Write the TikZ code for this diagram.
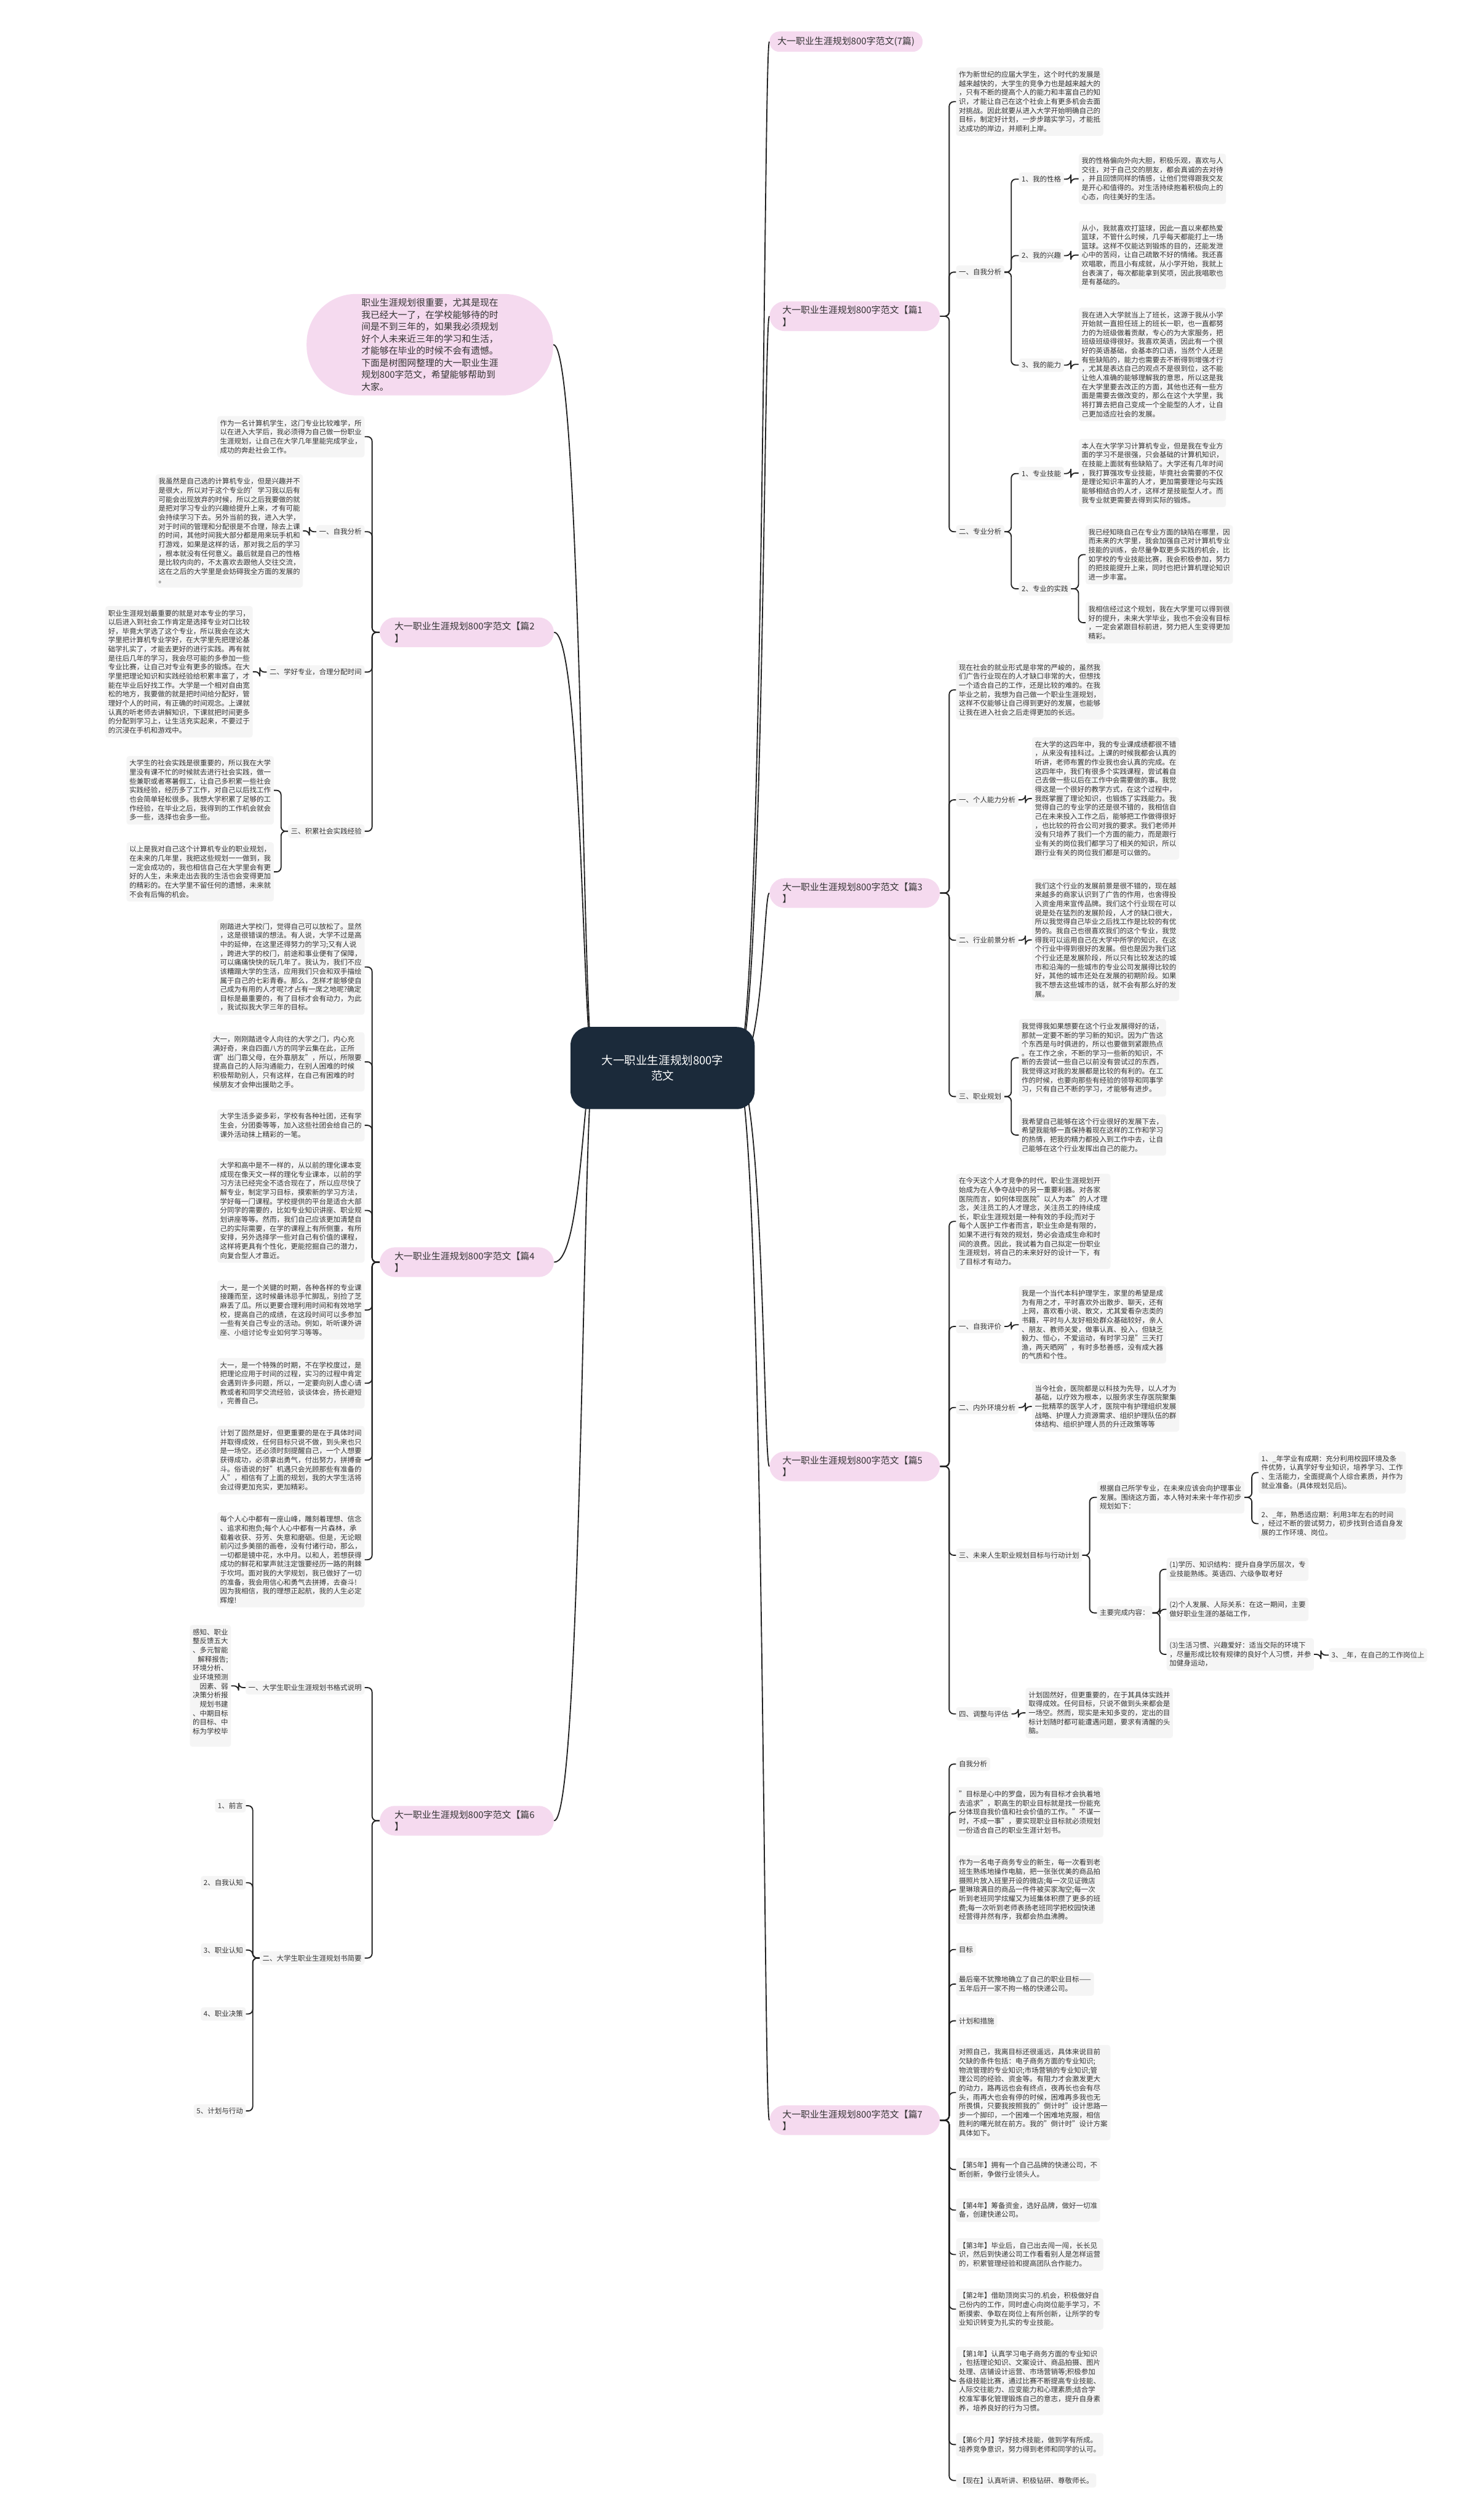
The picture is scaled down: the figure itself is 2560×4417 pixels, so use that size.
\documentclass[tikz,border=0pt]{standalone}
\usepackage{fontspec}
\setmainfont{Noto Sans CJK SC}
\usetikzlibrary{calc}
\definecolor{boxg}{HTML}{F5F5F5}
\definecolor{hpink}{HTML}{F5DAEF}
\definecolor{cnavy}{HTML}{1B2A3A}
\definecolor{txt}{HTML}{333333}
\definecolor{lnc}{HTML}{222222}
\newcommand\mmb{\fontsize{9.3pt}{11.85pt}\selectfont}
\newcommand\mmh{\fontsize{12.1pt}{15.75pt}\selectfont}
\newcommand\mmc{\fontsize{15pt}{20pt}\selectfont}
\newcommand\mmR[3]{\draw[conn] (#1.east) -- ++(#3,0) |- (#2.west);}
\newcommand\mmL[3]{\draw[conn] (#1.west) -- ++(-#3,0) |- (#2.east);}
\begin{document}
\begin{tikzpicture}[x=0.75pt,y=-0.75pt,
 tb/.style={fill=boxg, rounded corners=3.5pt, inner xsep=3.75pt, inner ysep=5pt, align=left, font=\mmb, text=txt, anchor=north west},
 tbr/.style={tb, anchor=north east},
 tbq/.style={tb, anchor=north east, align=right},
 lb/.style={fill=boxg, rounded corners=3.5pt, inner xsep=3.75pt, inner ysep=4.5pt, font=\mmb, text=txt, anchor=west},
 lbr/.style={lb, anchor=east},
 hd/.style={fill=hpink, rounded corners=20pt, inner xsep=17pt, inner ysep=6pt, align=left, font=\mmh, text=txt, anchor=north west, text width=190pt},
 hdl/.style={hd, inner xsep=19.5pt},
 hd0/.style={fill=hpink, rounded corners=13pt, inner xsep=10.5pt, inner ysep=7pt, font=\mmh, text=txt, anchor=north west},
 conn/.style={draw=lnc, line width=1.5pt, rounded corners=6pt},
 curve/.style={draw=lnc, line width=1.5pt}]
\useasboundingbox (0,0) rectangle (2560,4417);
\fill[white] (0,0) rectangle (2560,4417);

% ---------- headings ----------
\node[hd0] (h0) at (1348,55) {大一职业生涯规划800字范文(7篇)};
\node[hd] (h1) at (1348,528) {大一职业生涯规划800字范文【篇1\\】};
\node[hd] (h3) at (1348,1539) {大一职业生涯规划800字范文【篇3\\】};
\node[hd] (h5) at (1348,2544) {大一职业生涯规划800字范文【篇5\\】};
\node[hd] (h7) at (1348,3690) {大一职业生涯规划800字范文【篇7\\】};
\node[fill=hpink, rounded corners=65pt, inner xsep=72pt, inner ysep=6pt, align=left, text=txt, anchor=north west, font=\fontsize{12pt}{15.75pt}\selectfont] (bub) at (537,515) {职业生涯规划很重要，尤其是现在\\我已经大一了，在学校能够待的时\\间是不到三年的，如果我必须规划\\好个人未来近三年的学习和生活，\\才能够在毕业的时候不会有遗憾。\\下面是树图网整理的大一职业生涯\\规划800字范文，希望能够帮助到\\大家。};
\node[hdl] (h2) at (665,1082) {大一职业生涯规划800字范文【篇2\\】};
\node[hdl] (h4) at (665,2186) {大一职业生涯规划800字范文【篇4\\】};
\node[hdl] (h6) at (665,3165) {大一职业生涯规划800字范文【篇6\\】};

% ---------- central curves ----------
\coordinate (cR) at (1290,1872);
\coordinate (cL) at (1040,1872);
\foreach \h in {h0,h1,h3,h5,h7}
  {\draw[curve] (cR) .. controls (1338,1872) and ($(\h.west)+(-10,0)$) .. (\h.west);}
\foreach \h in {bub,h2,h4,h6}
  {\draw[curve] (\h.east) .. controls ($(\h.east)+(50,0)$) and (1021,1872) .. (cL);}
\node[fill=cnavy, rounded corners=24pt, minimum width=242pt, minimum height=108pt, align=center, text=white, font=\mmc] (c) at (1161,1872) {大一职业生涯规划800字\\范文};

% ---------- 篇1 ----------
\node[tb] (t1a) at (1675,118) {作为新世纪的应届大学生，这个时代的发展是\\越来越快的，大学生的竞争力也是越来越大的\\，只有不断的提高个人的能力和丰富自己的知\\识，才能让自己在这个社会上有更多机会去面\\对挑战。因此就要从进入大学开始明确自己的\\目标，制定好计划，一步步踏实学习，才能抵\\达成功的岸边，并顺利上岸。};
\node[lb] (l1a) at (1675,477) {一、自我分析};
\node[lb] (l1a1) at (1785,314) {1、我的性格};
\node[tb] (t1a1) at (1890,269) {我的性格偏向外向大胆，积极乐观，喜欢与人\\交往，对于自己交的朋友，都会真诚的去对待\\，并且回馈同样的情感，让他们觉得跟我交友\\是开心和值得的。对生活持续抱着积极向上的\\心态，向往美好的生活。};
\node[lb] (l1a2) at (1785,448) {2、我的兴趣};
\node[tb] (t1a2) at (1890,387) {从小，我就喜欢打篮球，因此一直以来都热爱\\篮球，不管什么时候，几乎每天都能打上一场\\篮球。这样不仅能达到锻炼的目的，还能发泄\\心中的苦闷，让自己疏散不好的情绪。我还喜\\欢唱歌，而且小有成就，从小学开始，我就上\\台表演了，每次都能拿到奖项，因此我唱歌也\\是有基础的。};
\node[lb] (l1a3) at (1785,640) {3、我的能力};
\node[tb] (t1a3) at (1890,539) {我在进入大学就当上了班长，这源于我从小学\\开始就一直担任班上的班长一职，也一直都努\\力的为班级做着贡献，专心的为大家服务，把\\班级班级得很好。我喜欢英语，因此有一个很\\好的英语基础，会基本的口语，当然个人还是\\有些缺陷的，能力也需要去不断得到增强才行\\，尤其是表达自己的观点不是很到位，这不能\\让他人准确的能够理解我的意思，所以这是我\\在大学里要去改正的方面，其他也还有一些方\\面是需要去做改变的，那么在这个大学里，我\\将打算去把自己变成一个全能型的人才，让自\\己更加适应社会的发展。};
\node[lb] (l1b) at (1675,932) {二、专业分析};
\node[lb] (l1b1) at (1785,830) {1、专业技能};
\node[tb] (t1b1) at (1890,769) {本人在大学学习计算机专业，但是我在专业方\\面的学习不是很强，只会基础的计算机知识，\\在技能上面就有些缺陷了。大学还有几年时间\\，我打算强攻专业技能，毕竟社会需要的不仅\\是理论知识丰富的人才，更加需要理论与实践\\能够相结合的人才，这样才是技能型人才。而\\我专业就更需要去得到实际的锻炼。};
\node[lb] (l1b2) at (1785,1032) {2、专业的实践};
\node[tb] (t1b2a) at (1902,920) {我已经知晓自己在专业方面的缺陷在哪里，因\\而未来的大学里，我会加强自己对计算机专业\\技能的训练，会尽量争取更多实践的机会，比\\如学校的专业技能比赛，我会积极参加，努力\\的把技能提升上来，同时也把计算机理论知识\\进一步丰富。};
\node[tb] (t1b2b) at (1902,1055) {我相信经过这个规划，我在大学里可以得到很\\好的提升，未来大学毕业，我也不会没有目标\\，一定会紧跟目标前进，努力把人生变得更加\\精彩。};
\mmR{h1}{t1a}{16}\mmR{h1}{l1a}{16}\mmR{h1}{l1b}{16}
\mmR{l1a}{l1a1}{12}\mmR{l1a}{l1a2}{12}\mmR{l1a}{l1a3}{12}
\mmR{l1a1}{t1a1}{12}\mmR{l1a2}{t1a2}{12}\mmR{l1a3}{t1a3}{12}
\mmR{l1b}{l1b1}{12}\mmR{l1b}{l1b2}{12}
\mmR{l1b1}{t1b1}{12}\mmR{l1b2}{t1b2a}{13}\mmR{l1b2}{t1b2b}{13}

% ---------- 篇3 ----------
\node[tb] (t3a) at (1675,1157) {现在社会的就业形式是非常的严峻的，虽然我\\们广告行业现在的人才缺口非常的大，但想找\\一个适合自己的工作，还是比较的难的。在我\\毕业之前，我想为自己做一个职业生涯规划，\\这样不仅能够让自己得到更好的发展，也能够\\让我在进入社会之后走得更加的长远。};
\node[lb] (l3a) at (1675,1402) {一、个人能力分析};
\node[tb] (t3a1) at (1808,1292) {在大学的这四年中，我的专业课成绩都很不错\\，从来没有挂科过。上课的时候我都会认真的\\听讲，老师布置的作业我也会认真的完成。在\\这四年中，我们有很多个实践课程，尝试着自\\己去做一些以后在工作中会需要做的事。我觉\\得这是一个很好的教学方式，在这个过程中，\\我既掌握了理论知识，也锻炼了实践能力。我\\觉得自己的专业学的还是很不错的，我相信自\\己在未来投入工作之后，能够把工作做得很好\\，也比较的符合公司对我的要求。我们老师并\\没有只培养了我们一个方面的能力，而是跟行\\业有关的岗位我们都学习了相关的知识，所以\\跟行业有关的岗位我们都是可以做的。};
\node[lb] (l3b) at (1675,1648) {二、行业前景分析};
\node[tb] (t3b1) at (1808,1540) {我们这个行业的发展前景是很不错的，现在越\\来越多的商家认识到了广告的作用，也舍得投\\入资金用来宣传品牌。我们这个行业现在可以\\说是处在猛烈的发展阶段，人才的缺口很大，\\所以我觉得自己毕业之后找工作是比较的有优\\势的。我自己也很喜欢我们的这个专业，我觉\\得我可以运用自己在大学中所学的知识，在这\\个行业中得到很好的发展。但也是因为我们这\\个行业还是发展阶段，所以只有比较发达的城\\市和沿海的一些城市的专业公司发展得比较的\\好，其他的城市还处在发展的初期阶段。如果\\我不想去这些城市的话，就不会有那么好的发\\展。};
\node[lb] (l3c) at (1675,1922) {三、职业规划};
\node[tb] (t3c1) at (1785,1786) {我觉得我如果想要在这个行业发展得好的话，\\那就一定要不断的学习新的知识。因为广告这\\个东西是与时俱进的，所以也要做到紧跟热点\\。在工作之余，不断的学习一些新的知识，不\\断的去尝试一些自己以前没有尝试过的东西，\\我觉得这对我的发展都是比较的有利的。在工\\作的时候，也要向那些有经验的领导和同事学\\习，只有自己不断的学习，才能够有进步。};
\node[tb] (t3c2) at (1785,1953) {我希望自己能够在这个行业很好的发展下去，\\希望我能够一直保持着现在这样的工作和学习\\的热情，把我的精力都投入到工作中去，让自\\己能够在这个行业发挥出自己的能力。};
\mmR{h3}{t3a}{16}\mmR{h3}{l3a}{16}\mmR{h3}{l3b}{16}\mmR{h3}{l3c}{16}
\mmR{l3a}{t3a1}{12}\mmR{l3b}{t3b1}{12}\mmR{l3c}{t3c1}{12}\mmR{l3c}{t3c2}{12}

% ---------- 篇5 ----------
\node[tb] (t5a) at (1675,2057) {在今天这个人才竞争的时代，职业生涯规划开\\始成为在人争夺战中的另一重要利器。对各家\\医院而言，如何体现医院"以人为本"的人才理\\念，关注员工的人才理念，关注员工的持续成\\长，职业生涯规划是一种有效的手段;而对于\\每个人医护工作者而言，职业生命是有限的，\\如果不进行有效的规划，势必会造成生命和时\\间的浪费。因此，我试着为自己拟定一份职业\\生涯规划，将自己的未来好好的设计一下，有\\了目标才有动力。};
\node[lb] (l5a) at (1675,2325) {一、自我评价};
\node[tb] (t5a1) at (1785,2254) {我是一个当代本科护理学生，家里的希望是成\\为有用之才，平时喜欢外出散步、聊天，还有\\上网，喜欢看小说、散文，尤其爱看杂志类的\\书籍，平时与人友好相处群众基础较好，亲人\\、朋友、教师关爱，做事认真、投入，但缺乏\\毅力、恒心，不爱运动，有时学习是"三天打\\渔，两天晒网"，有时多愁善感，没有成大器\\的气质和个性。};
\node[lb] (l5b) at (1675,2467) {二、内外环境分析};
\node[tb] (t5b1) at (1808,2421) {当今社会，医院都是以科技为先导，以人才为\\基础，以疗效为根本，以服务求生存医院聚集\\一批精萃的医学人才，医院中有护理组织发展\\战略、护理人力资源需求、组织护理队伍的群\\体结构、组织护理人员的升迁政策等等};
\node[lb] (l5c) at (1675,2726) {三、未来人生职业规划目标与行动计划};
\node[tb] (t5c1) at (1922,2596) {根据自己所学专业，在未来应该会向护理事业\\发展。围绕这方面，本人特对未来十年作初步\\规划如下：};
\node[tb] (t5c1a) at (2205,2544) {1、\_年学业有成期：充分利用校园环境及条\\件优势，认真学好专业知识，培养学习、工作\\、生活能力，全面提高个人综合素质，并作为\\就业准备。(具体规划见后)。};
\node[tb] (t5c1b) at (2205,2642) {2、\_年，熟悉适应期：利用3年左右的时间\\，经过不断的尝试努力，初步找到合适自身发\\展的工作环境、岗位。};
\node[lb] (l5c2) at (1922,2827) {主要完成内容：};
\node[tb] (t5c2a) at (2044,2730) {(1)学历、知识结构：提升自身学历层次，专\\业技能熟练。英语四、六级争取考好};
\node[tb] (t5c2b) at (2044,2800) {(2)个人发展、人际关系：在这一期间，主要\\做好职业生涯的基础工作，};
\node[tb] (t5c2c) at (2044,2871) {(3)生活习惯、兴趣爱好：适当交际的环境下\\，尽量形成比较有规律的良好个人习惯，并参\\加健身运动，};
\node[lb] (l5c2c1) at (2328,2901) {3、\_年，在自己的工作岗位上};
\node[lb] (l5d) at (1675,3004) {四、调整与评估};
\node[tb] (t5d1) at (1797,2958) {计划固然好，但更重要的，在于其具体实践并\\取得成效。任何目标，只说不做到头来都会是\\一场空。然而，现实是未知多变的，定出的目\\标计划随时都可能遭遇问题，要求有清醒的头\\脑。};
\mmR{h5}{t5a}{16}\mmR{h5}{l5a}{16}\mmR{h5}{l5b}{16}\mmR{h5}{l5c}{16}\mmR{h5}{l5d}{16}
\mmR{l5a}{t5a1}{12}\mmR{l5b}{t5b1}{12}\mmR{l5d}{t5d1}{12}
\mmR{l5c}{t5c1}{13}\mmR{l5c}{l5c2}{13}
\mmR{t5c1}{t5c1a}{13}\mmR{t5c1}{t5c1b}{13}
\mmR{l5c2}{t5c2a}{13}\mmR{l5c2}{t5c2b}{13}\mmR{l5c2}{t5c2c}{13}
\mmR{t5c2c}{l5c2c1}{12}

% ---------- 篇7 ----------
\node[lb] (l7a) at (1675,3092) {自我分析};
\node[tb] (t7b) at (1675,3132) {"目标是心中的罗盘，因为有目标才会执着地\\去追求"，职高生的职业目标就是找一份能充\\分体现自我价值和社会价值的工作。"不谋一\\时，不成一事"，要实现职业目标就必须规划\\一份适合自己的职业生涯计划书。};
\node[tb] (t7c) at (1675,3252) {作为一名电子商务专业的新生，每一次看到老\\班生熟练地操作电脑，把一张张优美的商品拍\\摄照片放入班里开设的微店;每一次见证微店\\里琳琅满目的商品一件件被买家淘空;每一次\\听到老班同学炫耀又为班集体积攒了更多的班\\费;每一次听到老师表扬老班同学把校园快递\\经营得井然有序，我都会热血沸腾。};
\node[lb] (l7d) at (1675,3417) {目标};
\node[tb] (t7e) at (1675,3457) {最后毫不犹豫地确立了自己的职业目标——\\五年后开一家不拘一格的快递公司。};
\node[lb] (l7f) at (1675,3542) {计划和措施};
\node[tb] (t7g) at (1675,3584) {对照自己，我离目标还很遥远，具体来说目前\\欠缺的条件包括：电子商务方面的专业知识;\\物流管理的专业知识;市场营销的专业知识;管\\理公司的经验、资金等。有阻力才会激发更大\\的动力，路再远也会有终点，夜再长也会有尽\\头，雨再大也会有停的时候，困难再多我也无\\所畏惧，只要我按照我的"倒计时"设计思路一\\步一个脚印，一个困难一个困难地克服，相信\\胜利的曙光就在前方。我的"倒计时"设计方案\\具体如下。};
\node[tb] (t7h) at (1675,3782) {【第5年】拥有一个自己品牌的快递公司，不\\断创新，争做行业领头人。};
\node[tb] (t7i) at (1675,3853) {【第4年】筹备资金，选好品牌，做好一切准\\备，创建快递公司。};
\node[tb] (t7j) at (1675,3923) {【第3年】毕业后，自己出去闯一闯，长长见\\识，然后到快递公司工作看看别人是怎样运营\\的，积累管理经验和提高团队合作能力。};
\node[tb] (t7k) at (1675,4011) {【第2年】借助顶岗实习的.机会，积极做好自\\己份内的工作，同时虚心向岗位能手学习，不\\断摸索、争取在岗位上有所创新，让所学的专\\业知识转变为扎实的专业技能。};
\node[tb] (t7l) at (1675,4113) {【第1年】认真学习电子商务方面的专业知识\\，包括理论知识、文案设计、商品拍摄、图片\\处理、店铺设计运营、市场营销等;积极参加\\各级技能比赛，通过比赛不断提高专业技能、\\人际交往能力、应变能力和心理素质;结合学\\校准军事化管理锻炼自己的意志，提升自身素\\养，培养良好的行为习惯。};
\node[tb] (t7m) at (1675,4264) {【第6个月】学好技术技能，做到学有所成。\\培养竞争意识，努力得到老师和同学的认可。};
\node[tb] (t7n) at (1675,4335) {【现在】认真听讲、积极钻研、尊敬师长。};
\foreach \n in {l7a,t7b,t7c,l7d,t7e,l7f,t7g,t7h,t7i,t7j,t7k,t7l,t7m,t7n}
  {\mmR{h7}{\n}{16}}

% ---------- 篇2 ----------
\node[tbr] (t2a) at (639,729) {作为一名计算机学生，这门专业比较难学，所\\以在进入大学后，我必须得为自己做一份职业\\生涯规划，让自己在大学几年里能完成学业，\\成功的奔赴社会工作。};
\node[lbr] (l2a) at (639,932) {一、自我分析};
\node[tbr] (t2a1) at (531,831) {我虽然是自己选的计算机专业，但是兴趣并不\\是很大，所以对于这个专业的'学习我以后有\\可能会出现放弃的时候，所以之后我要做的就\\是把对学习专业的兴趣给提升上来，才有可能\\会持续学习下去。另外当前的我，进入大学，\\对于时间的管理和分配很是不合理，除去上课\\的时间，其他时间我大部分都是用来玩手机和\\打游戏，如果是这样的话，那对我之后的学习\\，根本就没有任何意义。最后就是自己的性格\\是比较内向的，不太喜欢去跟他人交往交流，\\这在之后的大学里是会妨碍我全方面的发展的\\。};
\node[lbr] (l2b) at (639,1178) {二、学好专业，合理分配时间};
\node[tbr] (t2b1) at (443,1062) {职业生涯规划最重要的就是对本专业的学习，\\以后进入到社会工作肯定是选择专业对口比较\\好，毕竟大学选了这个专业，所以我会在这大\\学里把计算机专业学好，在大学里先把理论基\\础学扎实了，才能去更好的进行实践。再有就\\是往后几年的学习，我会尽可能的多参加一些\\专业比赛，让自己对专业有更多的锻炼。在大\\学里把理论知识和实践经验给积累丰富了，才\\能在毕业后好找工作。大学是一个相对自由宽\\松的地方，我要做的就是把时间给分配好，管\\理好个人的时间，有正确的时间观念。上课就\\认真的听老师去讲解知识，下课就把时间更多\\的分配到学习上，让生活充实起来，不要过于\\的沉浸在手机和游戏中。};
\node[lbr] (l2c) at (639,1457) {三、积累社会实践经验};
\node[tbr] (t2c1) at (480,1325) {大学生的社会实践是很重要的，所以我在大学\\里没有课不忙的时候就去进行社会实践，做一\\些兼职或者寒暑假工，让自己多积累一些社会\\实践经验，经历多了工作，对自己以后找工作\\也会简单轻松很多。我想大学积累了足够的工\\作经验，在毕业之后，我得到的工作机会就会\\多一些，选择也会多一些。};
\node[tbr] (t2c2) at (480,1476) {以上是我对自己这个计算机专业的职业规划，\\在未来的几年里，我把这些规划一一做到，我\\一定会成功的，我也相信自己在大学里会有更\\好的人生，未来走出去我的生活也会变得更加\\的精彩的。在大学里不留任何的遗憾，未来就\\不会有后悔的机会。};
\mmL{h2}{t2a}{13}\mmL{h2}{l2a}{13}\mmL{h2}{l2b}{13}\mmL{h2}{l2c}{13}
\mmL{l2a}{t2a1}{12}\mmL{l2b}{t2b1}{12}\mmL{l2c}{t2c1}{12}\mmL{l2c}{t2c2}{12}

% ---------- 篇4 ----------
\node[tbr] (t4a) at (639,1611) {刚踏进大学校门，觉得自己可以放松了。显然\\，这是很错误的想法。有人说，大学不过是高\\中的延伸，在这里还得努力的学习;又有人说\\，跨进大学的校门，前途和事业便有了保障，\\可以痛痛快快的玩几年了。我认为，我们不应\\该糟蹋大学的生活，应用我们只会和双手描绘\\属于自己的七彩青春。那么，怎样才能够使自\\己成为有用的人才呢?才占有一席之地呢?确定\\目标是最重要的，有了目标才会有动力，为此\\，我试拟我大学三年的目标。};
\node[tbr] (t4b) at (639,1809) {大一，刚刚踏进令人向往的大学之门，内心充\\满好奇，来自四面八方的同学云集在此，正所\\谓"出门靠父母，在外靠朋友"，所以，所限要\\提高自己的人际沟通能力，在别人困难的时候\\积极帮助别人，只有这样，在自己有困难的时\\候朋友才会伸出援助之手。};
\node[tbr] (t4c) at (639,1944) {大学生活多姿多彩，学校有各种社团，还有学\\生会，分团委等等，加入这些社团会给自己的\\课外活动抹上精彩的一笔。};
\node[tbr] (t4d) at (639,2030) {大学和高中是不一样的，从以前的理化课本变\\成现在像天文一样的理化专业课本，以前的学\\习方法已经完全不适合现在了，所以应尽快了\\解专业，制定学习目标，摸索新的学习方法，\\学好每一门课程。学校提供的平台是适合大部\\分同学的需要的，比如专业知识讲座、职业规\\划讲座等等。然而，我们自己应该更加清楚自\\己的实际需要，在学的课程上有所侧重，有所\\安排，另外选择学一些对自己有价值的课程，\\这样将更具有个性化，更能挖掘自己的潜力，\\向复合型人才靠近。};
\node[tbr] (t4e) at (639,2244) {大一，是一个关键的时期，各种各样的专业课\\接踵而至，这时候最讳忌手忙脚乱，别捡了芝\\麻丢了瓜。所以更要合理利用时间和有效地学\\校，提高自己的成绩，在这段时间可以多参加\\一些有关自己专业的活动。例如，听听课外讲\\座、小组讨论专业如何学习等等。};
\node[tbr] (t4f) at (639,2380) {大一，是一个特殊的时期，不在学校度过，是\\把理论应用于时间的过程，实习的过程中肯定\\会遇到许多问题，所以，一定要向别人虚心请\\教或者和同学交流经验，谈谈体会，扬长避短\\，完善自己。};
\node[tbr] (t4g) at (639,2499) {计划了固然是好，但更重要的是在于具体时间\\并取得成效，任何目标只说不做，到头来也只\\是一场空。还必须时刻提醒自己，一个人想要\\获得成功，必须拿出勇气，付出努力，拼搏奋\\斗。俗语说的好"机遇只会光顾那些有准备的\\人"，相信有了上面的规划，我的大学生活将\\会过得更加充实，更加精彩。};
\node[tbr] (t4h) at (639,2650) {每个人心中都有一座山峰，雕刻着理想、信念\\、追求和抱负;每个人心中都有一片森林，承\\载着收获、芬芳、失意和磨砺。但是，无论眼\\前闪过多美丽的画卷，没有付诸行动，那么，\\一切都是镜中花，水中月。以和人，若想获得\\成功的鲜花和掌声就注定饿要经历一路的荆棘\\于坎坷。面对我的大学规划，我已做好了一切\\的准备，我会用信心和勇气去拼搏，去奋斗!\\因为我相信，我的理想正起航，我的人生必定\\辉煌!};
\foreach \n in {t4a,t4b,t4c,t4d,t4e,t4f,t4g,t4h}
  {\mmL{h4}{\n}{13}}

% ---------- 篇6 ----------
\node[lbr] (l6a) at (639,2958) {一、大学生职业生涯规划书格式说明};
\node[tbq] (t6a1) at (405,2848) {感知、职业\\整反馈五大\\、多元智能\\解释报告;\\环境分析、\\业环境预测\\因素、弱\\决策分析报\\规划书建\\、中期目标\\的目标、中\\标为学校毕\\};
\node[lbr] (l6b) at (639,3432) {二、大学生职业生涯规划书简要};
\node[lbr] (l6b1) at (431,3165) {1、前言};
\node[lbr] (l6b2) at (431,3300) {2、自我认知};
\node[lbr] (l6b3) at (431,3418) {3、职业认知};
\node[lbr] (l6b4) at (431,3530) {4、职业决策};
\node[lbr] (l6b5) at (431,3700) {5、计划与行动};
\mmL{h6}{l6a}{13}\mmL{h6}{l6b}{13}
\mmL{l6a}{t6a1}{12}
\foreach \n in {l6b1,l6b2,l6b3,l6b4,l6b5}
  {\mmL{l6b}{\n}{12}}
\end{tikzpicture}
\end{document}
